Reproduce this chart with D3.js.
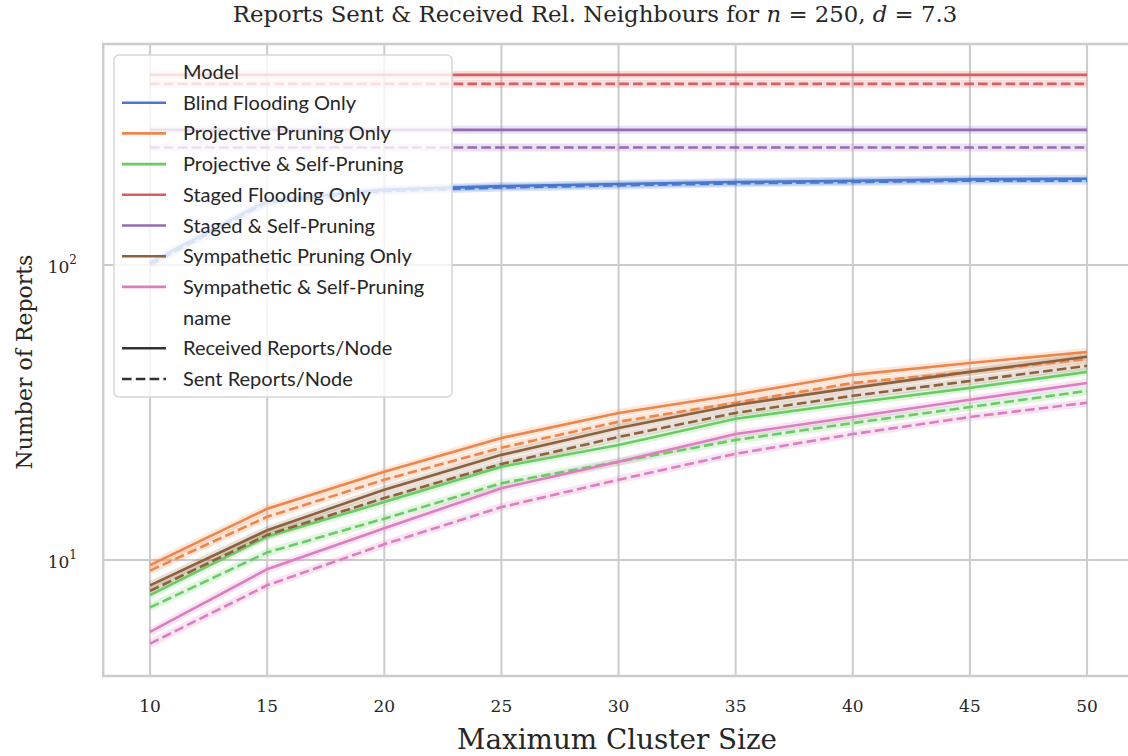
<!DOCTYPE html>
<html>
<head>
<meta charset="utf-8">
<script src="https://cdn.jsdelivr.net/npm/d3@7"></script>
<style>
  html, body { margin: 0; padding: 0; background: #fff; }
  svg { display: block; }
</style>
</head>
<body>
<svg id="chart" width="1128" height="756"></svg>
<script>
// ---------------- data ----------------
const clusterSizes = [10, 15, 20, 25, 30, 35, 40, 45, 50];

const models = [
  "Blind Flooding Only",
  "Projective Pruning Only",
  "Projective & Self-Pruning",
  "Staged Flooding Only",
  "Staged & Self-Pruning",
  "Sympathetic Pruning Only",
  "Sympathetic & Self-Pruning"
];
const metrics = ["Received Reports/Node", "Sent Reports/Node"];

// Received Reports/Node
const blindReceived       = [102, 165, 180, 185, 188, 191, 193, 195, 196];
const projectiveReceived  = [9.6, 14.9, 19.9, 25.9, 31.5, 36.3, 42.4, 46.5, 50.7];
const projSelfReceived    = [7.6, 12.0, 15.7, 20.7, 24.5, 30.1, 34.1, 38.3, 43.4];
const stagedReceived      = [441, 441, 441, 441, 441, 441, 441, 441, 441];
const stagedSelfReceived  = [287, 287, 287, 287, 287, 287, 287, 287, 287];
const sympatheticReceived = [8.2, 12.6, 17.3, 22.7, 28.0, 33.5, 38.3, 43.4, 48.8];
const sympSelfReceived    = [5.7, 9.3, 12.8, 17.5, 21.5, 26.7, 30.5, 34.9, 39.8];

// Sent Reports/Node
const blindSent           = [100, 163, 178, 183, 186, 189, 191, 193, 193];
const projectiveSent      = [9.2, 14.0, 18.7, 24.0, 29.4, 34.1, 39.8, 43.4, 48.0];
const projSelfSent        = [6.9, 10.6, 13.8, 18.2, 21.5, 25.5, 29.1, 33.0, 37.4];
const stagedSent          = [411, 411, 411, 411, 411, 411, 411, 411, 411];
const stagedSelfSent      = [250, 250, 250, 250, 250, 250, 250, 250, 250];
const sympatheticSent     = [7.85, 12.15, 16.2, 21.15, 26.1, 31.5, 36.0, 40.4, 45.5];
const sympSelfSent        = [5.2, 8.2, 11.3, 15.1, 18.7, 22.9, 26.7, 30.5, 34.1];

const receivedByModel = [blindReceived, projectiveReceived, projSelfReceived, stagedReceived,
                         stagedSelfReceived, sympatheticReceived, sympSelfReceived];
const sentByModel     = [blindSent, projectiveSent, projSelfSent, stagedSent,
                         stagedSelfSent, sympatheticSent, sympSelfSent];

const xTicks = [10, 15, 20, 25, 30, 35, 40, 45, 50];
const yTicks = [10, 100];
const xDomain = [8, 52];
const yDomain = [4.04, 561];

const titlePlain = "Reports Sent & Received Rel. Neighbours for ";
const xLabel = "Maximum Cluster Size";
const yLabel = "Number of Reports";

// ---------------- styling ----------------
const palette = ["#4878d0", "#ee854a", "#6acc64", "#d65f5f", "#956cb4", "#8c613c", "#dc7ec0"];
const serif = "'DejaVu Serif', serif";
const sans = "Lato, 'Open Sans', sans-serif";

const svg = d3.select("#chart");
const plot = { left: 103.2, right: 1133.9, top: 44, bottom: 676 };

const x = d3.scaleLinear().domain(xDomain).range([plot.left, plot.right]);
const y = d3.scaleLog().domain(yDomain).range([plot.bottom, plot.top]);

const color = d3.scaleOrdinal().domain(models).range(palette);

// clip
svg.append("defs").append("clipPath").attr("id", "clip")
  .append("rect").attr("x", plot.left).attr("y", plot.top)
  .attr("width", plot.right - plot.left).attr("height", plot.bottom - plot.top);

// grid
const grid = svg.append("g");
grid.selectAll("line.vx").data(xTicks).join("line")
  .attr("x1", d => x(d)).attr("x2", d => x(d))
  .attr("y1", plot.top).attr("y2", plot.bottom)
  .attr("stroke", "#cccccc").attr("stroke-width", 2);
grid.selectAll("line.hy").data(yTicks).join("line")
  .attr("x1", plot.left).attr("x2", plot.right)
  .attr("y1", d => y(d)).attr("y2", d => y(d))
  .attr("stroke", "#cccccc").attr("stroke-width", 2);

// spines
svg.append("rect").attr("x", plot.left).attr("y", plot.top)
  .attr("width", plot.right - plot.left).attr("height", plot.bottom - plot.top)
  .attr("fill", "none").attr("stroke", "#cccccc").attr("stroke-width", 2.5);

// series
const series = [];
models.forEach((m, i) => {
  series.push({ model: m, metric: metrics[0], values: receivedByModel[i] });
  series.push({ model: m, metric: metrics[1], values: sentByModel[i] });
});

const line = d3.line()
  .x((d, i) => x(clusterSizes[i]))
  .y(d => y(d));

const lines = svg.append("g").attr("clip-path", "url(#clip)");
// confidence halo
lines.selectAll("path.halo").data(series).join("path")
  .attr("d", d => line(d.values))
  .attr("fill", "none")
  .attr("stroke", d => color(d.model))
  .attr("stroke-opacity", 0.2)
  .attr("stroke-width", 8)
  .attr("stroke-linejoin", "round");
lines.selectAll("path.main").data(series).join("path")
  .attr("d", d => line(d.values))
  .attr("fill", "none")
  .attr("stroke", d => color(d.model))
  .attr("stroke-width", 2.6)
  .attr("stroke-dasharray", d => d.metric === metrics[1] ? "9.6,4.2" : null);

// x tick labels
svg.append("g").selectAll("text").data(xTicks).join("text")
  .attr("x", d => x(d)).attr("y", 712)
  .attr("text-anchor", "middle")
  .attr("font-family", serif).attr("font-size", 17).attr("fill", "#262626")
  .text(d => d);

// y tick labels (10^k)
const yt = svg.append("g").selectAll("text").data(yTicks).join("text")
  .attr("x", 77).attr("y", d => y(d) + 8)
  .attr("text-anchor", "end")
  .attr("font-family", serif).attr("font-size", 17).attr("fill", "#262626");
yt.append("tspan").text("10");
yt.append("tspan").attr("dy", -9).attr("font-size", 12).text(d => Math.round(Math.log10(d)));

// axis labels
svg.append("text").attr("x", 617).attr("y", 749)
  .attr("text-anchor", "middle").attr("font-family", serif)
  .attr("font-size", 27.8).attr("fill", "#262626").text(xLabel);
svg.append("text").attr("transform", "translate(32,362) rotate(-90)")
  .attr("text-anchor", "middle").attr("font-family", serif)
  .attr("font-size", 22).attr("fill", "#262626").text(yLabel);

// title
const title = svg.append("text").attr("x", 595).attr("y", 22)
  .attr("text-anchor", "middle").attr("font-family", serif)
  .attr("font-size", 22.8).attr("fill", "#262626");
title.append("tspan").text(titlePlain);
title.append("tspan").attr("font-style", "italic").text("n");
title.append("tspan").text(" = 250, ");
title.append("tspan").attr("font-style", "italic").text("d");
title.append("tspan").text(" = 7.3");

// legend
const legendRows = ["Model", ...models, "name", ...metrics];
const lg = svg.append("g");
lg.append("rect").attr("x", 114).attr("y", 55).attr("width", 338).attr("height", 342)
  .attr("rx", 5).attr("fill", "#ffffff").attr("fill-opacity", 0.8)
  .attr("stroke", "#d6d6d6").attr("stroke-width", 1.5);
const rowY = i => 72 + i * 30.7;
const rows = lg.selectAll("g.row").data(legendRows).join("g")
  .attr("transform", (d, i) => `translate(0,${rowY(i)})`);
rows.filter(d => models.includes(d) || metrics.includes(d))
  .append("line")
  .attr("x1", 122).attr("x2", 166).attr("y1", 0).attr("y2", 0)
  .attr("stroke", d => models.includes(d) ? color(d) : "#333333")
  .attr("stroke-width", 2.6)
  .attr("stroke-dasharray", d => d === metrics[1] ? "9.6,4.2" : null);
rows.append("text").attr("x", 183).attr("y", 7)
  .attr("font-family", sans).attr("font-size", 20).attr("fill", "#262626")
  .text(d => d);
</script>
</body>
</html>
